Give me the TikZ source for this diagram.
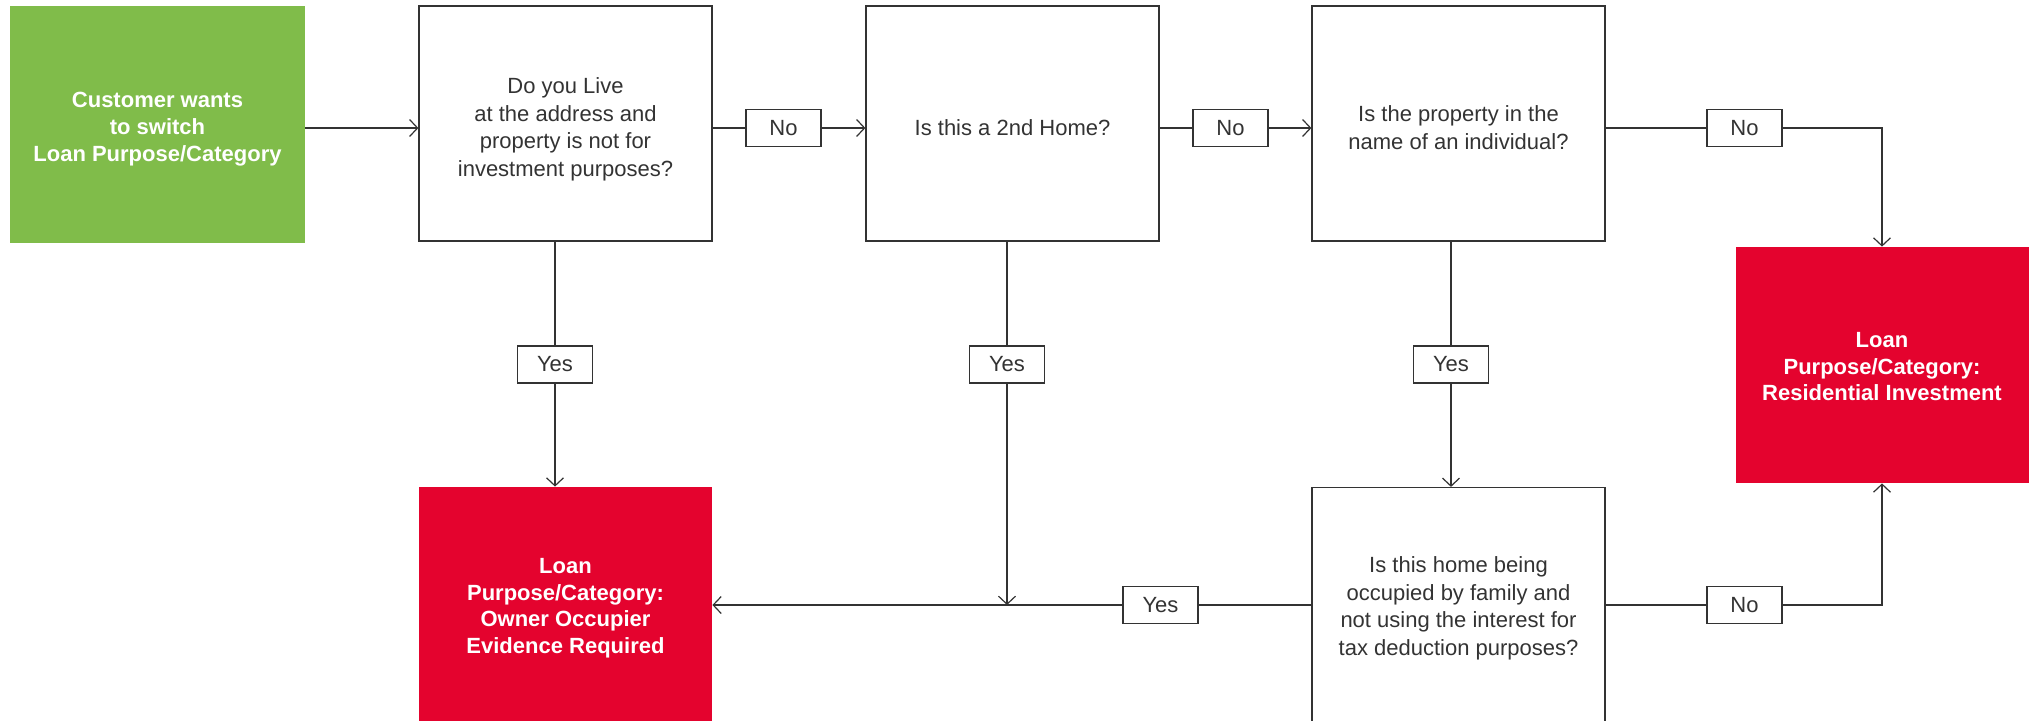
\documentclass[tikz,border=0pt]{standalone}
\usepackage{fontspec}
\setmainfont{Liberation Sans}
\usetikzlibrary{arrows.meta}
\definecolor{lgreen}{HTML}{80BC4A}
\definecolor{lred}{HTML}{E4032E}
\definecolor{ink}{HTML}{333333}
\newcommand\tpad[1]{\rule{0pt}{\dimexpr 8pt+#1\relax}}
\begin{document}
\begin{tikzpicture}[x=0.5pt,y=-0.5pt,
  qbox/.style={draw=ink, line width=0.6pt, minimum width=146.5pt, minimum height=117.5pt, inner sep=0pt, align=center, text=ink, font=\fontsize{11}{13.8}\selectfont},
  endbox/.style={fill=#1, minimum width=146.5pt, minimum height=118pt, inner sep=0pt, align=center, text=white, font=\fontsize{11}{13.3}\selectfont\bfseries},
  lbl/.style={draw=ink, fill=white, line width=0.6pt, minimum width=37.5pt, minimum height=18.5pt, inner sep=0pt, text=ink, font=\fontsize{11}{13}\selectfont},
  link/.style={draw=ink, line width=0.7pt},
  arr/.style={link, -{Straight Barb[length=4pt,width=8.5pt,line width=0.6pt]}}
]
\clip (0,0) rectangle (2035,720);
\node[endbox=lgreen, minimum width=147.5pt, minimum height=118.5pt] (start) at (157.5,124.5) {\tpad{4.3pt}Customer wants\\to switch\\Loan Purpose/Category};
\node[qbox] (q1) at (565.5,123.5) {\tpad{5.8pt}Do you Live\\at the address and\\property is not for\\investment purposes?};
\node[qbox] (q2) at (1012.5,123.5) {\tpad{3.9pt}Is this a 2nd Home?};
\node[qbox] (q3) at (1458.5,123.5) {\tpad{3.9pt}Is the property in the\\name of an individual?};
\node[qbox] (q4) at (1458.5,605) {\tpad{3.2pt}Is this home being\\occupied by family and\\not using the interest for\\tax deduction purposes?};
\node[endbox=lred] (inv) at (1882,365) {\tpad{1.3pt}Loan\\Purpose/Category:\\Residential Investment};
\node[endbox=lred] (own) at (565.5,605) {\tpad{2.6pt}Loan\\Purpose/Category:\\Owner Occupier\\Evidence Required};

\node[lbl] (n1) at (783.5,128) {No};
\node[lbl] (n2) at (1230.5,128) {No};
\node[lbl] (n3) at (1744.5,128) {No};
\node[lbl] (n4) at (1744.5,605) {No};
\node[lbl] (y1) at (555,364.5) {Yes};
\node[lbl] (y2) at (1007,364.5) {Yes};
\node[lbl] (y3) at (1451,364.5) {Yes};
\node[lbl] (y4) at (1160.5,605) {Yes};

\draw[arr] (start.east |- n1) -- (q1.west |- n1);
\draw[link] (q1.east |- n1) -- (n1);
\draw[arr] (n1) -- (q2.west |- n1);
\draw[link] (q2.east |- n2) -- (n2);
\draw[arr] (n2) -- (q3.west |- n2);
\draw[link] (q3.east |- n3) -- (n3);
\draw[arr] (n3) -| (inv.north);
\draw[link] (q4.east |- n4) -- (n4);
\draw[arr] (n4) -| (inv.south);
\draw[link] (q1.south -| y1) -- (y1);
\draw[arr] (y1) -- (own.north -| y1);
\draw[link] (q2.south -| y2) -- (y2);
\draw[arr] (y2) -- (y2 |- y4);
\draw[link] (q3.south -| y3) -- (y3);
\draw[arr] (y3) -- (q4.north -| y3);
\draw[link] (q4.west) -- (y4);
\draw[arr] (y4) -- (own.east);
\end{tikzpicture}
\end{document}
